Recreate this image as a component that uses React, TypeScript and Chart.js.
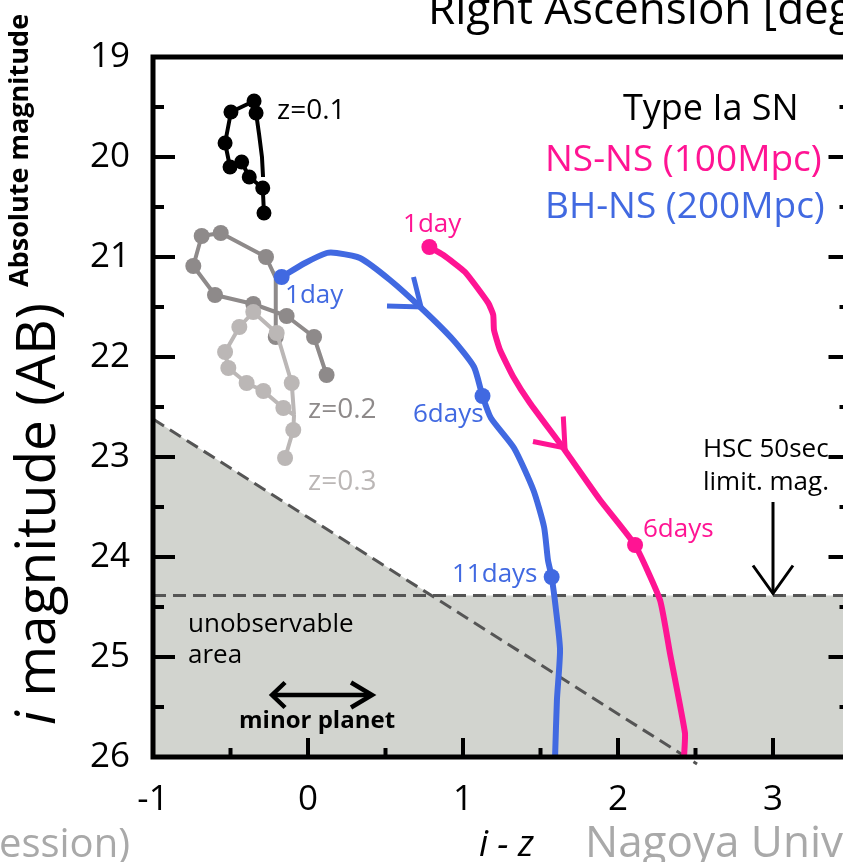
import React, { useEffect, useRef } from "react";
import { Chart, registerables } from "chart.js";

Chart.register(...registerables);

// ---------- data ----------
const xTickValues = [-1, 0, 1, 2, 3];
const yTickValues = [19, 20, 21, 22, 23, 24, 25, 26];

// Type Ia SN, z=0.1 (marked = observed epoch)
const snZ01X = [-0.284, -0.292, -0.379, -0.428, -0.503, -0.535, -0.497, -0.348, -0.335, -0.315, -0.297, -0.29];
const snZ01Y = [20.56, 20.31, 20.2, 20.05, 20.1, 19.86, 19.55, 19.44, 19.56, 19.78, 20.0, 20.2];
const snZ01Marked = [1, 1, 1, 1, 1, 1, 1, 1, 1, 0, 0, 0];

// Type Ia SN, z=0.2
const snZ02X = [0.12, 0.039, -0.138, -0.353, -0.6, -0.74, -0.686, -0.563, -0.271, -0.208, -0.208];
const snZ02Y = [22.18, 21.8, 21.59, 21.47, 21.38, 21.09, 20.79, 20.76, 21.0, 21.21, 21.8];
const snZ02Marked = [1, 1, 1, 1, 1, 1, 1, 1, 1, 0, 1];

// Type Ia SN, z=0.3
const snZ03X = [-0.148, -0.095, -0.09, -0.159, -0.288, -0.396, -0.514, -0.535, -0.443, -0.353, -0.202, -0.105, -0.09];
const snZ03Y = [23.01, 22.73, 22.58, 22.51, 22.34, 22.26, 22.11, 21.95, 21.7, 21.55, 21.76, 22.26, 22.58];
const snZ03Marked = [1, 1, 0, 1, 1, 1, 1, 1, 1, 1, 1, 1, 0];

// BH-NS (200Mpc)
const bhnsX = [-0.17, -0.019, 0.121, 0.185, 0.335, 0.529, 0.744, 0.937, 1.071, 1.126, 1.18, 1.329, 1.454, 1.523, 1.548, 1.572, 1.6, 1.626, 1.606, 1.594];
const bhnsY = [21.2, 21.06, 20.96, 20.96, 21.01, 21.23, 21.53, 21.83, 22.1, 22.39, 22.61, 22.91, 23.33, 23.7, 24.03, 24.2, 24.53, 24.93, 25.43, 26.0];
const bhnsMarked = [1, 0, 0, 0, 0, 0, 0, 0, 0, 1, 0, 0, 0, 0, 0, 1, 0, 0, 0, 0];

// NS-NS (100Mpc)
const nsnsX = [0.783, 0.873, 1.013, 1.163, 1.195, 1.2, 1.239, 1.325, 1.432, 1.647, 1.884, 2.11, 2.271, 2.335, 2.432, 2.426];
const nsnsY = [20.9, 20.98, 21.15, 21.46, 21.58, 21.73, 21.93, 22.2, 22.46, 22.91, 23.43, 23.88, 24.43, 24.96, 25.76, 26.0];
const nsnsMarked = [1, 0, 0, 0, 0, 0, 0, 0, 0, 0, 0, 1, 0, 0, 0, 0];

// Detection limits
const hscLimitMag = 24.385;
const minorPlanetX = [-1, 2.51];
const minorPlanetY = [22.62, 26.07];
const unobservableX = [-1, 0.8, 3.5];
const unobservableY = [22.62, hscLimitMag, hscLimitMag];

// ---------- helpers ----------
const pts = (xs: number[], ys: number[]) => xs.map((x, i) => ({ x, y: ys[i] }));
const FONT = "'Open Sans', sans-serif";

const BLUE = "#4169e1";
const PINK = "#ff1493";
const GRAY2 = "#8e8a8a";
const GRAY3 = "#bbb7b6";

function trackDataset(xs: number[], ys: number[], marked: number[], color: string, width: number, radius: number, order: number, tension = 0) {
  return {
    data: pts(xs, ys),
    borderColor: color,
    backgroundColor: color,
    borderWidth: width,
    pointRadius: (c: any) => (marked[c.dataIndex] ? radius : 0),
    pointBorderWidth: 0,
    pointHoverRadius: 0,
    borderJoinStyle: "round",
    borderCapStyle: "butt",
    tension,
    fill: false,
    order,
  };
}

const decorPlugin = {
  id: "decor",
  afterDatasetsDraw(chart: any) {
    const { ctx, scales } = chart;
    const X = (v: number) => scales.x.getPixelForValue(v);
    const Y = (v: number) => scales.y.getPixelForValue(v);
    const txt = (s: string, xv: number, yv: number, size: number, color: string, weight = "normal", align: CanvasTextAlign = "left") => {
      ctx.font = `${weight} ${size}px ${FONT}`;
      ctx.fillStyle = color;
      ctx.textAlign = align;
      ctx.textBaseline = "alphabetic";
      ctx.fillText(s, X(xv), Y(yv));
    };
    const arrowHead = (xv: number, yv: number, arms: number[][], color: string, w: number) => {
      const tx = X(xv), ty = Y(yv);
      ctx.strokeStyle = color;
      ctx.lineWidth = w;
      ctx.lineCap = "butt";
      ctx.lineJoin = "miter";
      ctx.beginPath();
      ctx.moveTo(tx + arms[0][0], ty + arms[0][1]);
      ctx.lineTo(tx, ty);
      ctx.lineTo(tx + arms[1][0], ty + arms[1][1]);
      ctx.stroke();
    };
    ctx.save();
    // direction arrows on tracks
    arrowHead(0.729, 21.5, [[-34, -1], [-7.5, -30]], BLUE, 5);
    arrowHead(1.658, 22.91, [[-32, -6.5], [-1.7, -31.5]], PINK, 5);

    // epoch labels
    txt("1day", -0.148, 21.46, 26, BLUE);
    txt("6days", 0.677, 22.65, 26, BLUE);
    txt("11days", 0.929, 24.25, 26, BLUE);
    txt("1day", 0.613, 20.75, 26, PINK);
    txt("6days", 2.161, 23.8, 26, PINK);
    txt("z=0.1", -0.2, 19.62, 28, "#000");
    txt("z=0.2", 0.0, 22.61, 28, GRAY2);
    txt("z=0.3", 0.0, 23.33, 28, GRAY3);

    // legend texts
    txt("Type Ia SN", 2.032, 19.63, 36, "#000");
    txt("NS-NS (100Mpc)", 1.529, 20.14, 37, PINK);
    txt("BH-NS (200Mpc)", 1.529, 20.61, 37, BLUE);

    // HSC limit
    txt("HSC 50sec", 2.548, 23.0, 26, "#000");
    txt("limit. mag.", 2.548, 23.33, 26, "#000");
    ctx.strokeStyle = "#000";
    ctx.lineWidth = 3;
    ctx.beginPath();
    ctx.moveTo(X(3.0), Y(23.45));
    ctx.lineTo(X(3.0), Y(hscLimitMag) - 2);
    ctx.stroke();
    arrowHead(3.0, hscLimitMag - 0.02, [[-20, -28], [20, -28]], "#000", 3);

    // unobservable area / minor planet
    txt("unobservable", -0.774, 24.75, 26, "#000");
    txt("area", -0.774, 25.06, 26, "#000");
    ctx.strokeStyle = "#000";
    ctx.lineWidth = 4.5;
    ctx.beginPath();
    ctx.moveTo(X(-0.232) + 2, Y(25.38));
    ctx.lineTo(X(0.413) - 2, Y(25.38));
    ctx.stroke();
    arrowHead(-0.232, 25.38, [[13, -12.5], [13, 12.5]], "#000", 4.5);
    arrowHead(0.413, 25.38, [[-21, -12.5], [-21, 12.5]], "#000", 4.5);
    txt("minor planet", -0.445, 25.71, 24, "#000", "bold");
    ctx.restore();
  },
  afterDraw(chart: any) {
    const { ctx, chartArea, scales } = chart;
    const { left, right, top, bottom } = chartArea;
    ctx.save();
    ctx.strokeStyle = "#000";
    ctx.lineCap = "butt";
    // inward ticks
    ctx.lineWidth = 4;
    const yMin = yTickValues[0], yMax = yTickValues[yTickValues.length - 1];
    for (let v = yMin; v <= yMax + 1e-9; v += 0.5) {
      const py = scales.y.getPixelForValue(v);
      const len = Math.abs(v - Math.round(v)) < 1e-6 ? 22 : 11;
      ctx.beginPath();
      ctx.moveTo(left, py); ctx.lineTo(left + len, py);
      ctx.moveTo(right, py); ctx.lineTo(right - len, py);
      ctx.stroke();
    }
    for (let v = scales.x.min; v <= scales.x.max + 1e-9; v += 0.5) {
      const px = scales.x.getPixelForValue(v);
      const len = Math.abs(v - Math.round(v)) < 1e-6 ? 19 : 9;
      ctx.beginPath();
      ctx.moveTo(px, bottom); ctx.lineTo(px, bottom - len);
      ctx.stroke();
    }
    // frame
    ctx.lineWidth = 5;
    ctx.strokeRect(left, top, right - left, bottom - top);

    // axis titles
    ctx.fillStyle = "#000";
    ctx.textAlign = "left";
    ctx.textBaseline = "alphabetic";
    ctx.save();
    ctx.translate(55, 725);
    ctx.rotate(-Math.PI / 2);
    ctx.font = `italic 55px ${FONT}`;
    ctx.fillText("i", 0, 0);
    const wi = ctx.measureText("i").width;
    ctx.font = `55px ${FONT}`;
    ctx.fillText(" magnitude (AB)", wi, 0);
    ctx.restore();
    ctx.save();
    ctx.translate(28, 287);
    ctx.rotate(-Math.PI / 2);
    ctx.font = `bold 27px ${FONT}`;
    ctx.fillText("Absolute magnitude", 0, 0);
    ctx.restore();

    ctx.textAlign = "center";
    ctx.font = `italic 36px ${FONT}`;
    ctx.fillText("i - z", scales.x.getPixelForValue(1.28), 856);

    // top axis title of neighbouring panel
    ctx.textAlign = "left";
    ctx.font = `44px ${FONT}`;
    ctx.fillText("Right Ascension [deg]", 428, 24);

    // slide footer texts
    ctx.fillStyle = "#a9a9a9";
    ctx.font = `40px ${FONT}`;
    ctx.textAlign = "right";
    ctx.fillText("ession)", 130, 857);
    ctx.textAlign = "left";
    ctx.font = `44px ${FONT}`;
    ctx.fillText("Nagoya University", 585, 857);
    ctx.restore();
  },
};

export default function App() {
  const ref = useRef<HTMLCanvasElement>(null);
  useEffect(() => {
    Chart.defaults.font.family = FONT;
    const chart = new Chart(ref.current as HTMLCanvasElement, {
      type: "line",
      data: {
        datasets: [
          trackDataset(bhnsX, bhnsY, bhnsMarked, BLUE, 6, 8, 0, 0.2) as any,
          trackDataset(nsnsX, nsnsY, nsnsMarked, PINK, 6, 8, 1, 0.15) as any,
          trackDataset(snZ01X, snZ01Y, snZ01Marked, "#000", 4, 7.5, 2) as any,
          trackDataset(snZ03X, snZ03Y, snZ03Marked, GRAY3, 4, 8, 3) as any,
          trackDataset(snZ02X, snZ02Y, snZ02Marked, GRAY2, 4, 8, 4) as any,
          {
            data: pts(minorPlanetX, minorPlanetY),
            borderColor: "#555555",
            borderWidth: 3,
            borderDash: [13, 7],
            pointRadius: 0,
            fill: false,
            clip: { left: 0, top: 0, right: 0, bottom: 14 },
            order: 5,
          } as any,
          {
            data: pts([-1, 3.5], [hscLimitMag, hscLimitMag]),
            borderColor: "#555555",
            borderWidth: 3,
            borderDash: [13, 7],
            pointRadius: 0,
            fill: false,
            order: 5,
          } as any,
          {
            data: pts(unobservableX, unobservableY),
            borderColor: "rgba(0,0,0,0)",
            borderWidth: 0,
            backgroundColor: "#d2d4cf",
            pointRadius: 0,
            fill: { value: 26 },
            order: 6,
          } as any,
        ],
      },
      options: {
        responsive: false,
        animation: false,
        events: [],
        layout: { padding: { left: 0, top: 57, right: 49.5, bottom: 0 } },
        plugins: { legend: { display: false }, tooltip: { enabled: false } },
        scales: {
          x: {
            type: "linear",
            min: -1,
            max: 3.5,
            grid: { display: false, drawTicks: false },
            border: { display: false },
            ticks: { font: { size: 35 }, color: "#000", padding: 22 },
            afterBuildTicks: (s: any) => { s.ticks = xTickValues.map((v) => ({ value: v })); },
            afterFit: (s: any) => { s.height = 105; },
          },
          y: {
            type: "linear",
            min: 19,
            max: 26,
            reverse: true,
            grid: { display: false, drawTicks: false },
            border: { display: false },
            ticks: { font: { size: 35 }, color: "#000", padding: 23 },
            afterBuildTicks: (s: any) => { s.ticks = yTickValues.map((v) => ({ value: v })); },
            afterFit: (s: any) => { s.width = 153; },
          },
        },
      } as any,
      plugins: [decorPlugin],
    });
    return () => chart.destroy();
  }, []);
  return (
    <div style={{ position: "fixed", left: 0, top: 0, width: 843, height: 862, overflow: "hidden", background: "#fff" }}>
      <canvas ref={ref} width={900} height={862} style={{ display: "block", width: 900, height: 862 }} />
    </div>
  );
}
